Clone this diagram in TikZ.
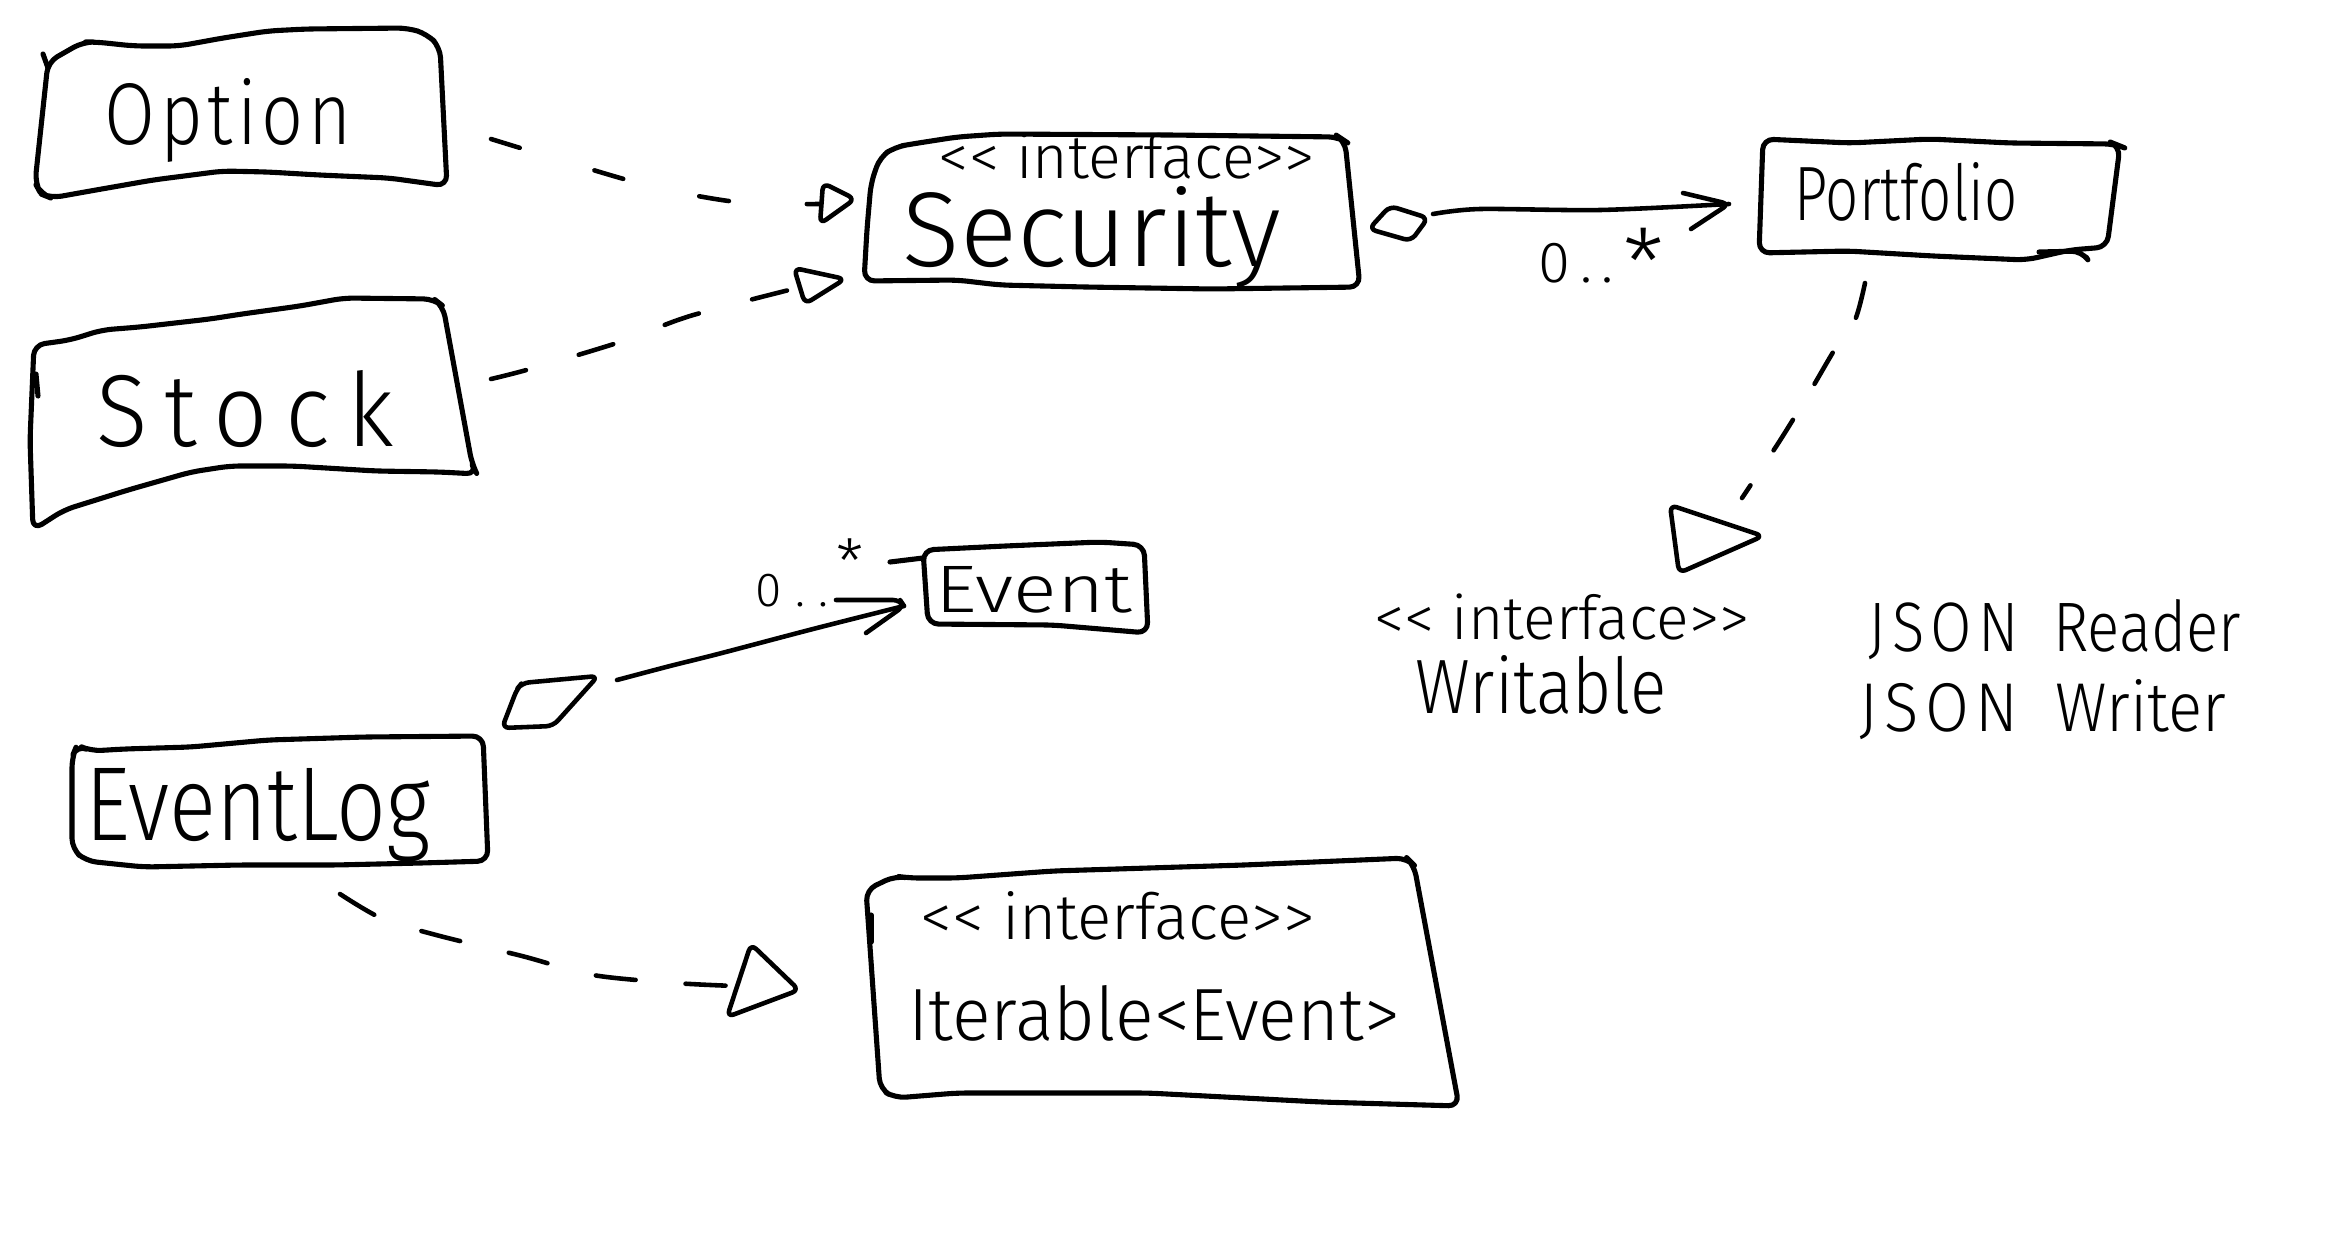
\documentclass[tikz,border=0pt]{standalone}
\usepackage{fontspec}
\setmainfont{Fira Sans Light}
\usepackage{graphicx}
\tikzset{
  sketch/.style={line width=1.45pt, line cap=round, line join=round, rounded corners=3pt},
  link/.style={line width=1.3pt, line cap=round, line join=round},
  head/.style={line width=1.3pt, line cap=round, line join=round, rounded corners=2pt},
  hand/.style={inner sep=0pt, anchor=base},
}
% width only, or width and height above the baseline
\newcommand\fitw[2]{\resizebox{#1}{!}{#2}}
\newcommand\fitwh[3]{\resizebox{#1}{#2}{#3}}
\begin{document}
\begin{tikzpicture}[x=0.01cm, y=-0.01cm]
\useasboundingbox (0,0) rectangle (2330,1242);
\fill[white] (0,0) rectangle (2330,1242);

% ---------- labels ----------
\node[hand] (option)     at (228,144)  {\fitwh{2.46cm}{0.66cm}{\addfontfeature{LetterSpace=6}Option}};
\node[hand] (stock)      at (245,446)  {\fitwh{2.97cm}{0.76cm}{\addfontfeature{LetterSpace=18}Stock}};
\node[hand] (secstereo)  at (1127,178) {\fitw{3.76cm}{<{}< interface>{}>}};
\node[hand] (security)   at (1092,266) {\fitw{3.78cm}{Security}};
\node[hand] (portfolio)  at (1906,220) {\fitwh{2.23cm}{0.58cm}{Portfolio}};
\node[hand] (event)      at (1034,612) {\fitwh{1.96cm}{0.46cm}{Event}};
\node[hand] (eventlog)   at (258,840)  {\fitwh{3.45cm}{0.72cm}{EventLog}};
\node[hand] (iterstereo) at (1118,939) {\fitw{3.94cm}{<{}< interface>{}>}};
\node[hand] (iterable)   at (1154,1040){\fitwh{4.91cm}{0.55cm}{Iterable<Event>}};
\node[hand] (wrstereo)   at (1562,639) {\fitw{3.75cm}{<{}< interface>{}>}};
\node[hand] (writable)   at (1541,713) {\fitwh{2.51cm}{0.58cm}{Writable}};
\node[hand] (jsonreader) at (2055,651) {\fitwh{3.72cm}{0.52cm}{{\addfontfeature{LetterSpace=10}JSON}\hspace{0.3em} Reader}};
\node[hand] (jsonwriter) at (2043,731) {\fitwh{3.66cm}{0.52cm}{{\addfontfeature{LetterSpace=10}JSON}\hspace{0.3em} Writer}};
\node[hand, anchor=base west] (multA) at (1538,282)
  {\fontsize{16.5}{16.5}\selectfont 0\,.\,.\,\raisebox{-0.25em}{\scalebox{1.6}{*}}};
\node[hand, anchor=base west] (multB) at (755,606)
  {\fontsize{13.6}{13.6}\selectfont 0\;.\;.\,\raisebox{0.45em}{\scalebox{1.3}{*}}};

% ---------- class boxes ----------
% Option
\draw[sketch] (48,62) -- (83,42) -- (96,42) -- (134,46) -- (179,46) -- (223,38) -- (268,31)
  -- (306,29) -- (408,28) -- (427,34) -- (440,47) -- (447,186) -- (389,178) -- (319,175)
  -- (268,172) -- (223,171) -- (153,180) -- (96,190) -- (51,198) -- (41,194) -- (35,183) -- cycle;
\draw[sketch] (43,54) -- (48,68);
% Stock
\draw[sketch] (34,345) -- (70,340) -- (102,330) -- (140,327) -- (210,319) -- (242,314)
  -- (300,306) -- (344,298) -- (434,299) -- (443,306) -- (472,464) -- (477,474) -- (440,472)
  -- (376,471) -- (293,466) -- (230,466) -- (191,472) -- (128,490) -- (64,510) -- (33,530)
  -- (30,440) -- cycle;
\draw[sketch] (36,374) -- (38,396);
% Security
\draw[sketch] (912,144) -- (957,137) -- (1000,134) -- (1170,135) -- (1339,137) -- (1345,141)
  -- (1360,287) -- (1212,289) -- (1085,287) -- (1000,285) -- (957,280) -- (864,281)
  -- (867,229) -- (871,183) -- (880,157) -- (895,147) -- cycle;
% Portfolio
\draw[sketch] (1763,139) -- (1850,143) -- (1930,139) -- (2010,143) -- (2115,144) -- (2120,146)
  -- (2107,247) -- (2070,250) -- (2026,260) -- (1933,256) -- (1848,251) -- (1759,253) -- cycle;
\draw[sketch] (2039,252) -- (2082,251) -- (2086,257);
% Event
\draw[sketch] (923,550) -- (1005,546) -- (1100,542) -- (1144,545) -- (1148,633) -- (1053,625)
  -- (928,624) -- cycle;
\draw[sketch] (890,562) -- (923,558);
% EventLog
\draw[sketch] (77,745) -- (91,751) -- (124,749) -- (191,747) -- (268,740) -- (364,737)
  -- (483,736) -- (488,861) -- (421,863) -- (335,865) -- (239,865) -- (144,867) -- (86,861)
  -- (72,849) -- (72,757) -- cycle;
% Iterable<Event>
\draw[sketch] (866,890) -- (895,876) -- (909,878) -- (957,878) -- (1053,871) -- (1244,865)
  -- (1407,858) -- (1414,865) -- (1459,1106) -- (1321,1102) -- (1148,1093) -- (957,1093)
  -- (895,1098) -- (880,1089) -- cycle;
\draw[sketch] (871,915) -- (871,942);

% ---------- connector end points ----------
\coordinate (optOut)  at (491,139);
\coordinate (secInA)  at (821,204);
\coordinate (stkOut)  at (491,379);
\coordinate (secInB)  at (797,288);
\coordinate (secOut)  at (1433,214);
\coordinate (porIn)   at (1729,204);
\coordinate (porOut)  at (1865,283);
\coordinate (wrIn)    at (1742,498);
\coordinate (logOut)  at (617,680);
\coordinate (evIn)    at (904,606);
\coordinate (logOutB) at (340,894);
\coordinate (itIn)    at (735,986);

% Option realizes Security
\draw[link, dash pattern=on 0.3cm off 0.78cm]
  plot[smooth] coordinates {(optOut) (560,160) (650,186) (737,202) (secInA)};
\draw[head] (823,183) -- (855,199) -- (820,224) -- cycle;

% Stock realizes Security
\draw[link, dash pattern=on 0.36cm off 0.55cm]
  plot[smooth] coordinates {(stkOut) (530,369) (620,342) (690,316) (secInB)};
\draw[head] (794,268) -- (845,279) -- (805,304) -- cycle;

% Security aggregated by Portfolio
\draw[head] (1369,229) -- (1390,206) -- (1428,218) -- (1411,241) -- cycle;
\draw[link] plot[smooth] coordinates {(secOut) (1480,209) (1600,210) (porIn)};
\draw[head] (1683,193) -- (porIn) -- (1691,229);

% Portfolio realizes Writable
\draw[link, dash pattern=on 0.36cm off 0.42cm]
  plot[smooth] coordinates {(porOut) (1855,320) (1835,349) (1808,395) (1779,442) (wrIn)};
\draw[head] (1670,505) -- (1763,536) -- (1679,573) -- cycle;

% EventLog aggregates Event
\draw[head] (502,728) -- (517,689) -- (522,683) -- (598,676) -- (553,726) -- cycle;
\draw[link] plot[smooth] coordinates {(logOut) (670,666) (718,654) (813,629) (evIn)};
\draw[head] (836,600) -- (900,600) -- (evIn) -- (866,633);

% EventLog realizes Iterable<Event>
\draw[link, dash pattern=on 0.4cm off 0.5cm]
  plot[smooth] coordinates {(logOutB) (383,919) (440,936) (522,956) (593,975) (675,983) (itIn)};
\draw[head] (751,944) -- (799,990) -- (727,1017) -- cycle;
\end{tikzpicture}
\end{document}
